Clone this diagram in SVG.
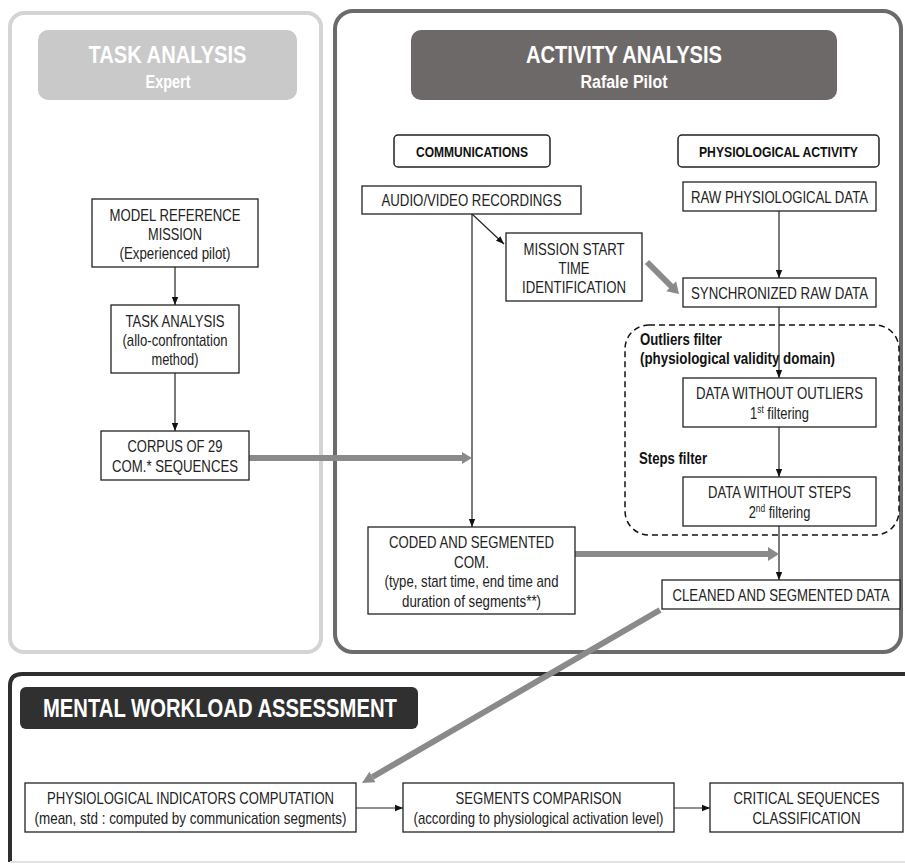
<svg xmlns="http://www.w3.org/2000/svg" width="905" height="865" viewBox="0 0 905 865">
<defs>
<marker id="ah" viewBox="0 0 8 8" refX="8" refY="4" markerWidth="8" markerHeight="8" markerUnits="userSpaceOnUse" orient="auto">
<path d="M0,0.8 L8,4 L0,7.2 Z" fill="#111"/>
</marker>
<style>
.t{font-family:"Liberation Sans Narrow","Liberation Sans",Arial,sans-serif;font-size:17px;fill:#222;text-anchor:middle}
.sq{transform-box:fill-box;transform-origin:center;transform:scaleX(0.76)}
.b{font-family:"Liberation Sans Narrow","Liberation Sans",Arial,sans-serif;font-weight:bold;fill:#111}
.h{font-family:"Liberation Sans Narrow","Liberation Sans",Arial,sans-serif;font-weight:bold;fill:#fff;text-anchor:middle}
.box{fill:#fff;stroke:#222;stroke-width:1.3}
.ln{fill:none;stroke:#222;stroke-width:1.2}
.thick{fill:none;stroke:#8a8a8a;stroke-width:6}
.head{fill:#8a8a8a}
</style>
</defs>
<rect width="905" height="865" fill="#fff"/>

<g id="task-panel">
<rect x="10" y="13" width="311" height="639" rx="14" fill="#fff" stroke="#d4d4d4" stroke-width="4"/>
<rect x="38" y="30" width="259" height="70" rx="10" fill="#c9c9c9"/>
<text class="h" x="167.5" y="63" font-size="24" textLength="158" lengthAdjust="spacingAndGlyphs">TASK ANALYSIS</text>
<text class="h" x="168" y="88" font-size="18" textLength="45" lengthAdjust="spacingAndGlyphs">Expert</text>
</g>

<g id="activity-panel">
<rect x="335" y="11" width="566" height="641" rx="18" fill="#fff" stroke="#6b6b6b" stroke-width="4"/>
<rect x="411" y="30" width="426" height="70" rx="10" fill="#6e6969"/>
<text class="h" x="624" y="63" font-size="24" textLength="196" lengthAdjust="spacingAndGlyphs">ACTIVITY ANALYSIS</text>
<text class="h" x="624" y="88" font-size="18" textLength="87" lengthAdjust="spacingAndGlyphs">Rafale Pilot</text>
</g>

<g id="mental-panel">
<path d="M10,862 L10,686 Q10,674 22,674 L905,674" fill="none" stroke="#2e2e2e" stroke-width="4"/>
<line x1="10" y1="862" x2="905" y2="862" stroke="#e2e2e2" stroke-width="2"/>
<rect x="20" y="687" width="398" height="42" rx="6" fill="#303030"/>
<text class="h" x="220" y="717" font-size="25" textLength="354" lengthAdjust="spacingAndGlyphs">MENTAL WORKLOAD ASSESSMENT</text>
</g>

<g id="filters-region">
<rect x="625" y="325" width="274" height="210" rx="24" fill="none" stroke="#111" stroke-width="1.5" stroke-dasharray="6,4"/>
<text class="b" x="640" y="345" font-size="16" textLength="82" lengthAdjust="spacingAndGlyphs">Outliers filter</text>
<text class="b" x="640" y="364" font-size="16" textLength="195" lengthAdjust="spacingAndGlyphs">(physiological validity domain)</text>
<text class="b" x="639" y="464" font-size="16" textLength="68" lengthAdjust="spacingAndGlyphs">Steps filter</text>
</g>

<g id="connectors">
<line class="ln" x1="175" y1="267" x2="175" y2="305" marker-end="url(#ah)"/>
<line class="ln" x1="175" y1="373" x2="175" y2="431" marker-end="url(#ah)"/>
<line class="ln" x1="472" y1="214" x2="504" y2="244" marker-end="url(#ah)"/>
<line class="ln" x1="472" y1="214" x2="472" y2="527" stroke="#555" marker-end="url(#ah)"/>
<line class="ln" x1="779" y1="211" x2="779" y2="278" marker-end="url(#ah)"/>
<line class="ln" x1="779" y1="307" x2="779" y2="378" marker-end="url(#ah)"/>
<line class="ln" x1="779" y1="427" x2="779" y2="477" marker-end="url(#ah)"/>
<line class="ln" x1="779" y1="526" x2="779" y2="580" marker-end="url(#ah)"/>
<line class="ln" x1="356" y1="808" x2="403" y2="808" marker-end="url(#ah)"/>
<line class="ln" x1="674" y1="808" x2="710" y2="808" marker-end="url(#ah)"/>
<line class="thick" x1="249" y1="458" x2="463" y2="458"/>
<polygon class="head" points="462,452 472,458 462,464"/>
<line class="thick" x1="575" y1="554" x2="769" y2="554" stroke-width="7"/>
<polygon class="head" points="768,547 779,554 768,561"/>
<line class="thick" x1="647" y1="262" x2="672" y2="287" stroke-width="7"/>
<polygon class="head" points="666.3,291.2 679,294 676.1,281.3"/>
<line class="thick" x1="660" y1="610" x2="372.4" y2="777"/>
<polygon class="head" points="375.4,782.2 362,783 369.4,771.8"/>
</g>

<g id="model-reference">
<rect class="box" x="92" y="199" width="166" height="68"/>
<text class="t" x="175" y="221" textLength="131" lengthAdjust="spacingAndGlyphs">MODEL REFERENCE</text>
<text class="t" x="175" y="240" textLength="54" lengthAdjust="spacingAndGlyphs">MISSION</text>
<text class="t" x="175" y="259" textLength="111" lengthAdjust="spacingAndGlyphs">(Experienced pilot)</text>
</g>
<g id="task-analysis">
<rect class="box" x="111" y="305" width="128" height="68"/>
<text class="t" x="175" y="327" textLength="99" lengthAdjust="spacingAndGlyphs">TASK ANALYSIS</text>
<text class="t" x="175" y="346" textLength="105" lengthAdjust="spacingAndGlyphs">(allo-confrontation</text>
<text class="t" x="175" y="365" textLength="47" lengthAdjust="spacingAndGlyphs">method)</text>
</g>
<g id="corpus">
<rect class="box" x="101" y="431" width="148" height="49"/>
<text class="t" x="175" y="452" textLength="95" lengthAdjust="spacingAndGlyphs">CORPUS OF 29</text>
<text class="t" x="175" y="472" textLength="126" lengthAdjust="spacingAndGlyphs">COM.* SEQUENCES</text>
</g>

<g id="communications">
<rect x="394" y="135" width="156" height="32" rx="4" fill="#fff" stroke="#222" stroke-width="1.5"/>
<text class="b" x="472" y="156.5" font-size="14" text-anchor="middle" textLength="112" lengthAdjust="spacingAndGlyphs">COMMUNICATIONS</text>
</g>
<g id="physiological-activity">
<rect x="678" y="135" width="201" height="32" rx="4" fill="#fff" stroke="#222" stroke-width="1.5"/>
<text class="b" x="778.5" y="156.5" font-size="14" text-anchor="middle" textLength="159" lengthAdjust="spacingAndGlyphs">PHYSIOLOGICAL ACTIVITY</text>
</g>
<g id="audio-video">
<rect class="box" x="362" y="186" width="219" height="28"/>
<text class="t" x="471.5" y="206" textLength="180" lengthAdjust="spacingAndGlyphs">AUDIO/VIDEO RECORDINGS</text>
</g>
<g id="raw-data">
<rect class="box" x="683" y="182" width="193" height="29"/>
<text class="t" x="779.5" y="202.5" textLength="177" lengthAdjust="spacingAndGlyphs">RAW PHYSIOLOGICAL DATA</text>
</g>
<g id="mission-start">
<rect class="box" x="506" y="233" width="136" height="68"/>
<text class="t" x="574" y="255" textLength="101" lengthAdjust="spacingAndGlyphs">MISSION START</text>
<text class="t" x="574" y="274" textLength="31" lengthAdjust="spacingAndGlyphs">TIME</text>
<text class="t" x="574" y="293" textLength="104" lengthAdjust="spacingAndGlyphs">IDENTIFICATION</text>
</g>
<g id="synchronized">
<rect class="box" x="683" y="278" width="193" height="29"/>
<text class="t" x="779.5" y="298.5" textLength="177" lengthAdjust="spacingAndGlyphs">SYNCHRONIZED RAW DATA</text>
</g>
<g id="without-outliers">
<rect class="box" x="683" y="378" width="193" height="49"/>
<text class="t" x="779.5" y="399" textLength="167" lengthAdjust="spacingAndGlyphs">DATA WITHOUT OUTLIERS</text>
<text class="t sq" x="779.5" y="419">1<tspan font-size="11" dy="-6">st</tspan><tspan dy="6"> filtering</tspan></text>
</g>
<g id="without-steps">
<rect class="box" x="683" y="477" width="193" height="49"/>
<text class="t" x="779.5" y="498" textLength="143" lengthAdjust="spacingAndGlyphs">DATA WITHOUT STEPS</text>
<text class="t sq" x="779.5" y="518">2<tspan font-size="11" dy="-6">nd</tspan><tspan dy="6"> filtering</tspan></text>
</g>
<g id="coded">
<rect class="box" x="368" y="527" width="207" height="87"/>
<text class="t" x="471.5" y="548" textLength="165" lengthAdjust="spacingAndGlyphs">CODED AND SEGMENTED</text>
<text class="t" x="471.5" y="567.5" textLength="35" lengthAdjust="spacingAndGlyphs">COM.</text>
<text class="t" x="471.5" y="587" textLength="174" lengthAdjust="spacingAndGlyphs">(type, start time, end time and</text>
<text class="t" x="471.5" y="606.5" textLength="139" lengthAdjust="spacingAndGlyphs">duration of segments**)</text>
</g>
<g id="cleaned">
<rect class="box" x="662" y="580" width="238" height="29"/>
<text class="t" x="781" y="601" textLength="217" lengthAdjust="spacingAndGlyphs">CLEANED AND SEGMENTED DATA</text>
</g>

<g id="indicators">
<rect class="box" x="25" y="783" width="331" height="49"/>
<text class="t" x="190.5" y="804" textLength="287" lengthAdjust="spacingAndGlyphs">PHYSIOLOGICAL INDICATORS COMPUTATION</text>
<text class="t" x="190.5" y="824" textLength="312" lengthAdjust="spacingAndGlyphs">(mean, std : computed by communication segments)</text>
</g>
<g id="segments">
<rect class="box" x="403" y="783" width="271" height="49"/>
<text class="t" x="538.5" y="804" textLength="166" lengthAdjust="spacingAndGlyphs">SEGMENTS COMPARISON</text>
<text class="t" x="538.5" y="824" textLength="250" lengthAdjust="spacingAndGlyphs">(according to physiological activation level)</text>
</g>
<g id="critical">
<rect class="box" x="710" y="783" width="193" height="49"/>
<text class="t" x="806.5" y="804" textLength="146" lengthAdjust="spacingAndGlyphs">CRITICAL SEQUENCES</text>
<text class="t" x="806.5" y="824" textLength="108" lengthAdjust="spacingAndGlyphs">CLASSIFICATION</text>
</g>
</svg>
